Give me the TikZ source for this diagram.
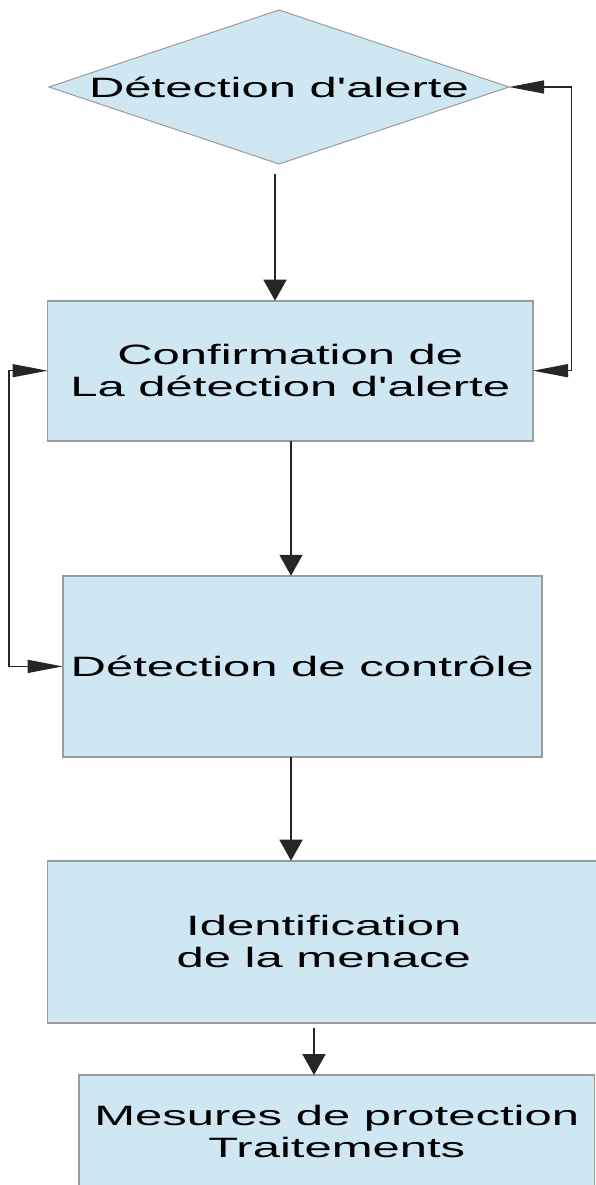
\documentclass[tikz,border=0pt]{standalone}
\usepackage{fontspec}
\setmainfont{Liberation Sans}
\usetikzlibrary{shapes.geometric,arrows.meta}
\definecolor{boxfill}{RGB}{207,230,243}
\definecolor{boxline}{RGB}{155,155,155}
\newcommand{\wide}[1]{\scalebox{1.75}[1]{#1}}
\tikzset{
  flowbox/.style={draw=boxline, line width=1.6pt, fill=boxfill, rectangle, inner sep=0pt, outer sep=0pt,
    align=center, font=\fontsize{28}{32}\selectfont},
  decision/.style={draw=boxline, line width=1pt, fill=boxfill, diamond, aspect=3, inner sep=0pt, outer sep=0pt,
    minimum width=460pt, minimum height=154pt, font=\fontsize{28}{32}\selectfont},
  varrow/.style={draw=black!85, line width=1.8pt, -{Triangle[length=21pt,width=23pt]}},
  loop/.style={draw=black!85, line width=1.4pt, {Triangle[length=35pt,width=13pt]}-{Triangle[length=35pt,width=13pt]}}
}
\begin{document}
\begin{tikzpicture}[x=1pt,y=-1pt]
\useasboundingbox (0,0) rectangle (596,1185);
\node[decision] (dia) at (279,87) {\wide{Détection d\textquotesingle alerte}};
\node[flowbox, minimum width=485.5pt, minimum height=140pt] (box1) at (290.3,370.7)
  {\wide{Confirmation de}\\\wide{La détection d\textquotesingle alerte}};
\node[flowbox, minimum width=479pt, minimum height=181.3pt] (box2) at (302.2,666.4)
  {\wide{Détection de contrôle}};
\node[flowbox, minimum width=552.5pt, minimum height=162.3pt] (box3) at (323.75,941.85)
  {\wide{Identification}\\\wide{de la menace}};
\node[flowbox, minimum width=515.5pt, minimum height=113pt] (box4) at (336.75,1131.5)
  {\wide{Mesures de protection}\\\wide{Traitements}};
% straight arrows
\coordinate (a1s) at (275,174);
\draw[varrow] (a1s) -- (a1s |- box1.north);
\coordinate (a2s) at (291,440.7);
\draw[varrow] (a2s) -- (a2s |- box2.north);
\coordinate (a3s) at (291,757);
\draw[varrow] (a3s) -- (a3s |- box3.north);
\coordinate (a4s) at (314,1028);
\draw[varrow] (a4s) -- (a4s |- box4.north);
% feedback loops
\coordinate (rcol) at (571.5,0);
\draw[loop] (dia.east) -- (dia.east -| rcol) |- (box1.east);
\coordinate (lcol) at (9,0);
\draw[loop] (box1.west) -- (box1.west -| lcol) |- (box2.west);
\end{tikzpicture}
\end{document}
